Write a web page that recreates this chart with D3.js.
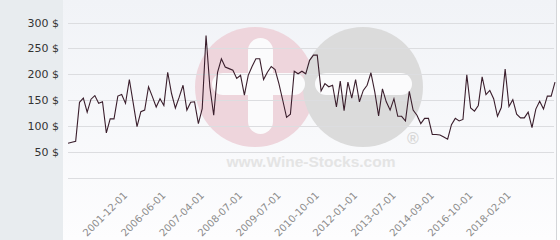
<!DOCTYPE html>
<html>
<head>
<meta charset="utf-8">
<script src="https://cdn.jsdelivr.net/npm/d3@7"></script>
<style>
  body { margin: 0; background: #fff; }
  svg { display: block; font-family: "DejaVu Sans", sans-serif; }
</style>
</head>
<body>
<div id="chart"></div>
<script>
// prix moyen par millésime (lecture du graphique)
const prices = [
  67, 69, 71, 146, 154, 127, 152, 159, 144, 147,
  87, 114, 114, 158, 161, 144, 190, 145, 99, 128,
  131, 176, 157, 137, 153, 140, 204, 163, 135, 156,
  179, 131, 146, 147, 105, 134, 275, 175, 121, 204,
  230, 214, 211, 208, 192, 198, 160, 198, 215, 230,
  230, 190, 204, 215, 209, 182, 150, 117, 123, 206,
  201, 206, 201, 227, 237, 237, 168, 182, 176, 179,
  137, 187, 130, 185, 154, 190, 147, 169, 179, 203,
  166, 120, 172, 147, 131, 153, 119, 119, 110, 167,
  131, 121, 105, 115, 115, 84, 84, 83, 79, 75,
  103, 115, 110, 113, 199, 135, 129, 140, 195, 161,
  169, 153, 119, 136, 210, 138, 151, 123, 116, 116,
  127, 97, 133, 148, 133, 158, 158, 185
];
const tickAt = [15, 25, 35, 45, 55, 65, 75, 85, 95, 105, 115];
const tickLabels = ["2001-12-01", "2006-06-01", "2007-04-01", "2008-07-01", "2009-07-01",
  "2010-10-01", "2012-01-01", "2013-07-01", "2014-09-01", "2016-10-01", "2018-02-01"];
const gridValues = [0, 50, 100, 150, 200, 250, 300];
const yLabelValues = [50, 100, 150, 200, 250, 300];

const width = 560, height = 240;
const svg = d3.select("#chart").append("svg")
  .attr("width", width).attr("height", height);

// fonds
const defs = svg.append("defs");
const grad = defs.append("linearGradient").attr("id", "bg")
  .attr("x1", 0).attr("y1", 0).attr("x2", 0).attr("y2", 1);
grad.append("stop").attr("offset", "0%").attr("stop-color", "#f1f3f7");
grad.append("stop").attr("offset", "100%").attr("stop-color", "#fdfdfe");

svg.append("rect").attr("x", 0).attr("y", 0).attr("width", 63).attr("height", height)
  .attr("fill", "#e8ecef");
svg.append("rect").attr("x", 63).attr("y", 0).attr("width", 493).attr("height", height)
  .attr("fill", "url(#bg)");
svg.append("line").attr("x1", 556.5).attr("x2", 556.5).attr("y1", 0).attr("y2", height)
  .attr("stroke", "#d4d6d9");

const x = d3.scalePoint().domain(d3.range(prices.length)).range([68, 555]);
const y = d3.scaleLinear().domain([0, 300]).range([178, 22.5]);

// logo en filigrane
const wm = svg.append("g");
wm.append("circle").attr("cx", 255).attr("cy", 87).attr("r", 60).attr("fill", "#eed5dc");
wm.append("circle").attr("cx", 363).attr("cy", 87).attr("r", 60).attr("fill", "#dbdbdb");
wm.append("rect").attr("x", 248).attr("y", 38).attr("width", 25).attr("height", 96)
  .attr("rx", 12.5).attr("fill", "#fbfbfc");
wm.append("rect").attr("x", 212).attr("y", 73).attr("width", 93).attr("height", 22)
  .attr("rx", 11).attr("fill", "#fbfbfc");
wm.append("rect").attr("x", 315).attr("y", 73).attr("width", 97).attr("height", 22)
  .attr("rx", 11).attr("fill", "#fbfbfc");
wm.append("text").attr("x", 311).attr("y", 167).attr("text-anchor", "middle")
  .attr("font-family", "Liberation Sans, Arial, sans-serif").attr("font-weight", "bold")
  .attr("font-size", 15.5).attr("fill", "#e4e4e4").text("www.Wine-Stocks.com");
wm.append("text").attr("x", 413).attr("y", 144).attr("text-anchor", "middle")
  .attr("font-family", "Liberation Sans, Arial, sans-serif").attr("font-weight", "bold")
  .attr("font-size", 16).attr("fill", "#d8d8d8").text("®");

// grille
svg.append("g").selectAll("line").data(gridValues).join("line")
  .attr("x1", 68).attr("x2", 554)
  .attr("y1", d => Math.round(y(d)) + 0.5).attr("y2", d => Math.round(y(d)) + 0.5)
  .attr("stroke", "#dcdde0").attr("stroke-width", 1);

// axe Y
const yAxis = d3.axisLeft(y).tickValues(yLabelValues).tickSize(0).tickPadding(0)
  .tickFormat(d => d + " $");
const gy = svg.append("g").attr("transform", "translate(59,0)").call(yAxis);
gy.select(".domain").remove();
gy.selectAll("text").attr("font-size", 11).attr("fill", "#333")
  .attr("font-family", "DejaVu Sans, sans-serif");

// axe X
const xAxis = d3.axisBottom(x).tickValues(tickAt).tickSize(0)
  .tickFormat((d, i) => tickLabels[i]);
const gx = svg.append("g").attr("transform", "translate(0,178)").call(xAxis);
gx.select(".domain").remove();
gx.selectAll("text")
  .attr("font-size", 10).attr("fill", "#8c8c8c")
  .attr("font-family", "DejaVu Sans, sans-serif")
  .attr("text-anchor", "end")
  .attr("y", 0).attr("dy", 0)
  .attr("transform", "translate(2,18) rotate(-45)");

// courbe
const line = d3.line()
  .x((d, i) => x(i))
  .y(d => y(d));
svg.append("path")
  .datum(prices)
  .attr("fill", "none")
  .attr("stroke", "#3a1e2c")
  .attr("stroke-width", 1.1)
  .attr("d", line);
</script>
</body>
</html>
